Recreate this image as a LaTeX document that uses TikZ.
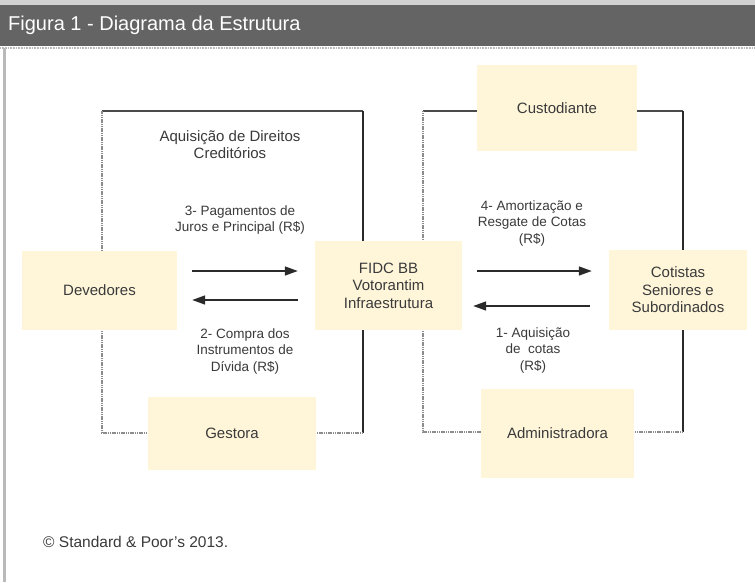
\documentclass[tikz,border=0pt]{standalone}
\usepackage{fontspec}
\setmainfont{Liberation Sans}
\usetikzlibrary{arrows.meta,calc}
\definecolor{boxfill}{HTML}{FFF6DA}
\definecolor{txt}{HTML}{3A3A3A}
\definecolor{hdr}{HTML}{646464}
\definecolor{hdrtop}{HTML}{D2D2D2}
\definecolor{dotgray}{HTML}{8C8C8C}
\definecolor{solidline}{HTML}{2A2A2A}
\tikzset{
  box/.style={fill=boxfill, draw=none, inner sep=0pt, align=center, text=txt,
    font=\fontsize{15}{17.5}\selectfont},
  lbl/.style={inner sep=0pt, align=center, text=txt, font=\fontsize{13.5}{16.5}\selectfont},
  arr/.style={-{Triangle[length=13pt,width=9pt]}, line width=1.5pt, draw=solidline},
  frametop/.style={line width=1.5pt, draw=solidline!85},
  frameside/.style={line width=2.2pt, draw=solidline},
  framedot/.style={line width=2.2pt, draw=dotgray, dash pattern=on 1.2pt off 0.6pt},
}
\begin{document}
\begin{tikzpicture}[x=1pt,y=-1pt]
\useasboundingbox (0,0) rectangle (755,582);
\fill[white] (0,0) rectangle (755,582);
% header
\fill[hdrtop] (0,0) rectangle (755,5);
\fill[hdr] (0,5) rectangle (755,46);
\draw[line width=2pt, draw=gray!55, dash pattern=on 1pt off 0.6pt] (0,47.5) -- (755,47.5);
\node[anchor=west, text=white, inner sep=0pt, font=\fontsize{20}{21}\selectfont] (title) at (8,25) {Figura 1 - Diagrama da Estrutura};
% left border
\draw[line width=3pt, draw=gray!55] (4.5,48) -- (4.5,582);

% frame corners
\coordinate (LTL) at (102,111);
\coordinate (LTR) at (363,111);
\coordinate (LBR) at (363,433);
\coordinate (LBL) at (102,433);
\coordinate (RTL) at (423,111);
\coordinate (RTR) at (683,111);
\coordinate (RBR) at (683,432);
\coordinate (RBL) at (423,432);

\draw[frametop] (LTL) -- (LTR);
\draw[frameside] (LTR) -- (LBR);
\draw[framedot] (LBR) -- (LBL) -- (LTL);
\draw[frametop] (RTL) -- (RTR);
\draw[frameside] (RTR) -- (RBR);
\draw[framedot] (RBR) -- (RBL) -- (RTL);

% boxes
\node[box, minimum width=155pt, minimum height=79pt] (dev) at (99.5,290.5) {Devedores};
\node[box, minimum width=147pt, minimum height=89pt] (fidc) at (388.5,285.5) {FIDC BB\\Votorantim\\Infraestrutura};
\node[box, minimum width=138pt, minimum height=80pt] (cot) at (678,290) {Cotistas\\Seniores e\\Subordinados};
\node[box, minimum width=160pt, minimum height=86pt] (cust) at (557,108) {Custodiante};
\node[box, minimum width=168pt, minimum height=73pt] (gest) at (232,433.5) {Gestora};
\node[box, minimum width=153pt, minimum height=89pt] (adm) at (557.5,433.5) {Administradora};

% arrows
\draw[arr, shorten <=15pt, shorten >=17pt] ([yshift=19.5pt]dev.east) -- ([yshift=19.5pt]dev.east -| fidc.west);
\draw[arr, shorten <=17pt, shorten >=15pt] ([yshift=-9.5pt]dev.east -| fidc.west) -- ([yshift=-9.5pt]dev.east);
\draw[arr, shorten <=15pt, shorten >=17pt] ([yshift=19pt]cot.west -| fidc.east) -- ([yshift=19pt]cot.west);
\draw[arr, shorten <=19pt, shorten >=11pt] ([yshift=-16pt]cot.west) -- ([yshift=-16pt]cot.west -| fidc.east);

% labels
\node[lbl, font=\fontsize{15}{17}\selectfont] (l0) at (230,145) {Aquisição de Direitos\\Creditórios};
\node[lbl] (l3) at (240,220) {3- Pagamentos de\\Juros e Principal (R\$)};
\node[lbl] (l2) at (245,351) {2- Compra dos\\Instrumentos de\\Dívida (R\$)};
\node[lbl] (l4) at (532,223) {4- Amortização e\\Resgate de Cotas\\(R\$)};
\node[lbl] (l1) at (533,350) {1- Aquisição\\de\ \ cotas\\(R\$)};
\node[anchor=west, inner sep=0pt, text=txt, font=\fontsize{15.5}{17}\selectfont] (copy) at (43,542) {© Standard \& Poor’s 2013.};
\end{tikzpicture}
\end{document}
